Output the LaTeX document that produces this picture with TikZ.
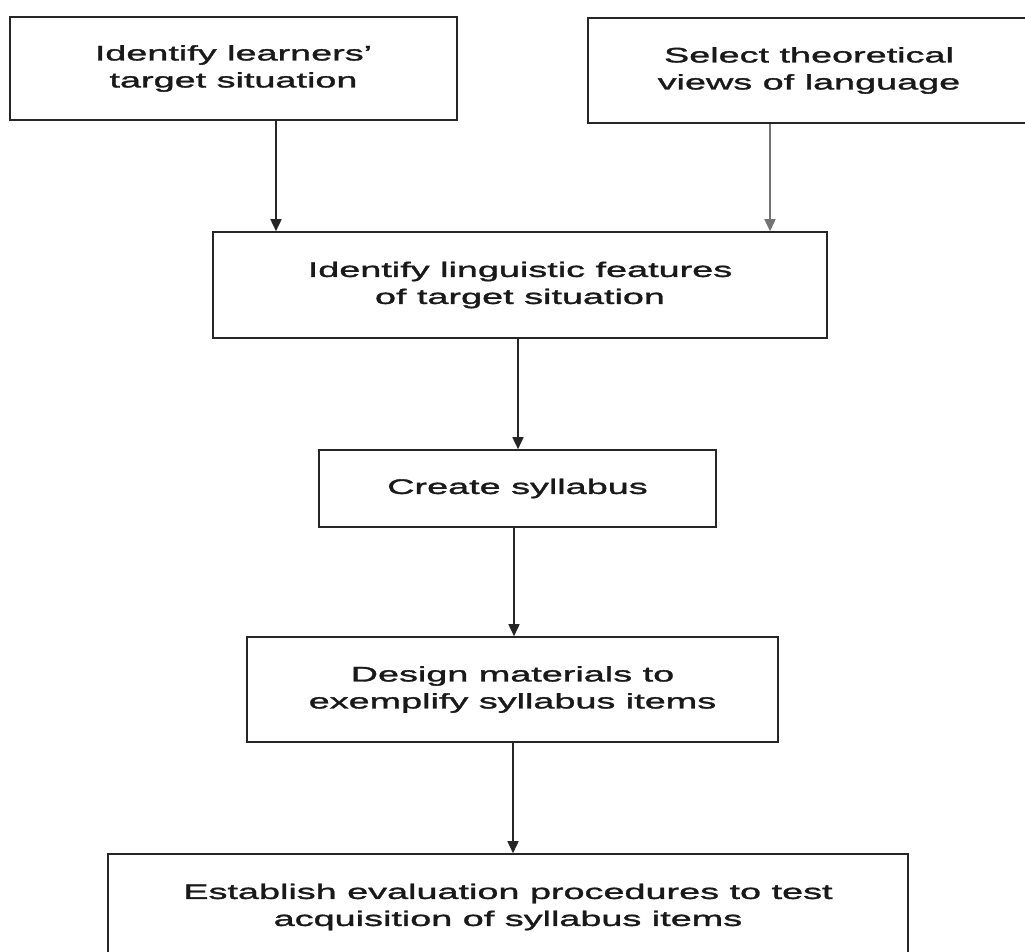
\documentclass[tikz,border=0pt]{standalone}
\usepackage{fontspec}
\setmainfont{Liberation Sans}[FakeStretch=1.8,FakeBold=1.6]
\usetikzlibrary{arrows.meta}
\begin{document}
\begin{tikzpicture}[x=1pt,y=-1pt,
  stepbox/.style={draw=black!85, line width=1.6pt, inner sep=0pt,
    align=center, text=black!90,
    font=\fontsize{21}{27}\selectfont},
  arr/.style={draw=black!85, line width=1.6pt,
    -{Triangle[width=11pt,length=12pt]}},
  lightarr/.style={arr, draw=black!55}]
\useasboundingbox (0,0) rectangle (1025,951);
\clip (0,0) rectangle (1025,951);
\fill[white] (0,0) rectangle (1025,951);

% process steps
\node[stepbox, minimum width=447pt, minimum height=103pt] (b1) at (233.5,68.5)
  {Identify learners'\\target situation};
\node[stepbox, minimum width=442pt, minimum height=105pt] (b2) at (809,70.5)
  {Select theoretical\\views of language};
\node[stepbox, minimum width=614pt, minimum height=106pt] (b3) at (520,285)
  {Identify linguistic features\\of target situation};
\node[stepbox, minimum width=397pt, minimum height=77pt] (b4) at (517.5,488.5)
  {Create syllabus};
\node[stepbox, minimum width=531pt, minimum height=105pt] (b5) at (512.5,689.5)
  {Design materials to\\exemplify syllabus items};
\node[stepbox, minimum width=800pt, minimum height=106pt] (b6) at (508,907)
  {Establish evaluation procedures to test\\acquisition of syllabus items};

% connectors
\draw[arr] (276,0 |- b1.south) -- (276,0 |- b3.north);
\draw[lightarr] (770,0 |- b2.south) -- (770,0 |- b3.north);
\draw[arr] (518,0 |- b3.south) -- (518,0 |- b4.north);
\draw[arr] (514,0 |- b4.south) -- (514,0 |- b5.north);
\draw[arr] (513,0 |- b5.south) -- (513,0 |- b6.north);
\end{tikzpicture}
\end{document}
